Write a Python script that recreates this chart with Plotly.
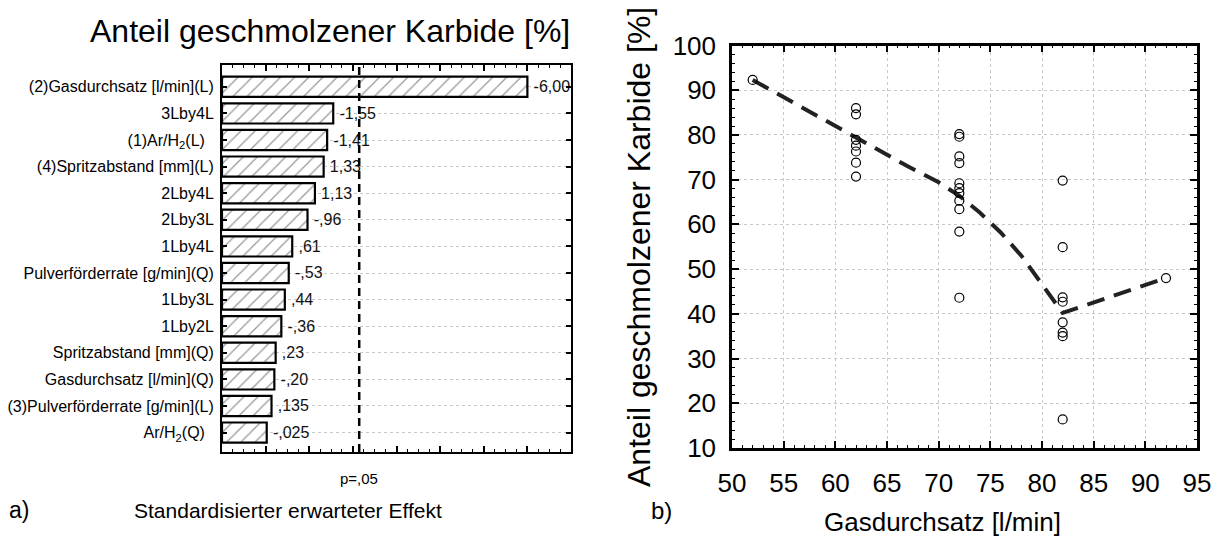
import numpy as np
import plotly.graph_objects as go

# ---------------------------------------------------------------- data
# a) Pareto chart of standardized effects
effect_names = [
    "(2)Gasdurchsatz [l/min](L)",
    "3Lby4L",
    "(1)Ar/H<sub>2</sub>(L)\u00a0\u00a0",
    "(4)Spritzabstand [mm](L)",
    "2Lby4L",
    "2Lby3L",
    "1Lby4L",
    "Pulverförderrate [g/min](Q)",
    "1Lby3L",
    "1Lby2L",
    "Spritzabstand [mm](Q)",
    "Gasdurchsatz [l/min](Q)",
    "(3)Pulverförderrate [g/min](L)",
    "Ar/H<sub>2</sub>(Q)\u00a0\u00a0",
]
effect_values = [-6.00, -1.55, -1.41, 1.33, 1.13, -0.96, 0.61,
                 -0.53, 0.44, -0.36, 0.23, -0.20, 0.135, -0.025]
t_critical = 2.145          # p = 0.05 significance limit
pareto_start = -1           # left end of the effect axis

# b) melted carbide fraction vs. gas flow
gas_flow = ([52]
            + [62] * 7
            + [72] * 11
            + [82] * 8
            + [92])
carbide_share = ([92.3]
                 + [86.0, 84.6, 78.9, 77.6, 76.3, 73.8, 70.7]
                 + [80.2, 79.6, 75.2, 73.7, 69.2, 68.1, 67.0, 65.3, 63.4, 58.4, 43.6]
                 + [69.8, 54.9, 43.7, 42.7, 38.1, 35.8, 35.0, 16.4]
                 + [48.0])
fit_flow = [52, 57, 62, 67, 70, 72, 74, 76, 78, 80, 82, 92]
fit_share = [92.3, 85.8, 79.3, 73.0, 69.4, 66.4, 62.6, 58.2, 53.0, 46.6, 40.2, 48.0]

FONT = "Liberation Sans, Arial, Helvetica, sans-serif"
W, H = 1222, 549


def px(x):
    return x / W


def py(y):
    return 1 - y / H


def effect_label(v):
    """Statistica style: comma decimal, no leading zero, at least 2 decimals."""
    s = f"{abs(v):.3f}".rstrip("0")
    whole, frac = s.split(".")
    frac = frac.ljust(2, "0")
    whole = "" if whole == "0" else whole
    # narrow no-break space keeps the value a little away from the bar end
    return "\u202f" + ("-" if v < 0 else "") + whole + "," + frac


effects = np.abs(np.array(effect_values))

fig = go.Figure()

fig.add_trace(go.Bar(
    y=effect_names,
    x=effects - pareto_start,
    base=pareto_start,
    orientation="h",
    width=0.76,
    marker=dict(
        color="white",
        line=dict(color="black", width=2.2),
        pattern=dict(shape="/", fgcolor="#333333", bgcolor="white",
                     size=10, solidity=0.13),
    ),
    text=[effect_label(v) for v in effect_values],
    textposition="outside",
    constraintext="none",
    cliponaxis=False,
    textfont=dict(family=FONT, size=16, color="#111111"),
    xaxis="x", yaxis="y",
    showlegend=False,
))

fig.add_trace(go.Scatter(
    x=fit_flow, y=fit_share,
    mode="lines",
    line=dict(color="#222222", width=4, dash="18px,10px"),
    xaxis="x2", yaxis="y2",
    showlegend=False,
))

fig.add_trace(go.Scatter(
    x=gas_flow, y=carbide_share,
    mode="markers",
    marker=dict(symbol="circle-open", size=9, color="black", line=dict(width=1.2)),
    xaxis="x2", yaxis="y2",
    showlegend=False,
))

axis_common = dict(
    showline=True, linecolor="black", mirror="allticks",
    ticks="inside", tickcolor="black", zeroline=False, automargin=False,
)

fig.update_layout(
    width=W, height=H,
    margin=dict(l=0, r=0, t=0, b=0, autoexpand=False),
    paper_bgcolor="white", plot_bgcolor="white",
    font=dict(family=FONT, color="black"),
    xaxis=dict(
        **axis_common,
        domain=[px(222), px(571)], anchor="y",
        range=[pareto_start, 7], dtick=1, tick0=0,
        linewidth=2, ticklen=6, tickwidth=1.5,
        showticklabels=False, showgrid=False,
        minor=dict(ticks="inside", ticklen=3, dtick=0.25, tickcolor="black", tickwidth=1),
    ),
    yaxis=dict(
        **axis_common,
        domain=[py(452), py(65)], anchor="x",
        type="category",
        range=[13.73, -0.82],
        linewidth=2, ticklen=5, tickwidth=1.5,
        showgrid=True, gridcolor="#c8c8c8", griddash="dot", gridwidth=1,
        tickfont=dict(family=FONT, size=16, color="black"),
        ticklabelstandoff=3,
    ),
    xaxis2=dict(
        **axis_common,
        domain=[px(732), px(1197)], anchor="y2",
        range=[50, 95], dtick=5, tick0=50,
        linewidth=2.5, ticklen=7, tickwidth=1.5,
        showgrid=True, gridcolor="#c8c8c8", griddash="dot", gridwidth=1,
        tickfont=dict(family=FONT, size=26, color="black"),
        ticklabelstandoff=10,
        minor=dict(ticks="inside", ticklen=3, dtick=1, tickcolor="black", tickwidth=1),
    ),
    yaxis2=dict(
        **axis_common,
        domain=[py(448), py(45.5)], anchor="x2",
        range=[10, 100], dtick=10, tick0=10,
        linewidth=2.5, ticklen=7, tickwidth=1.5,
        showgrid=True, gridcolor="#c8c8c8", griddash="dot", gridwidth=1,
        tickfont=dict(family=FONT, size=26, color="black"),
        ticklabelstandoff=8,
        minor=dict(ticks="inside", ticklen=3, dtick=2, tickcolor="black", tickwidth=1),
    ),
    shapes=[
        dict(type="line", xref="x", yref="y domain",
             x0=t_critical, x1=t_critical, y0=0, y1=1,
             line=dict(color="black", width=2.5, dash="8px,5px")),
    ],
)

annotations = [
    dict(text="Anteil geschmolzener Karbide [%]", x=px(572), y=py(31),
         xanchor="right", yanchor="middle", font=dict(size=32)),
    dict(text="p=,05", x=t_critical, xref="x", y=py(478),
         xanchor="center", yanchor="middle", font=dict(size=15)),
    dict(text="a)", x=px(7), y=py(510),
         xanchor="left", yanchor="middle", font=dict(size=23)),
    dict(text="Standardisierter erwarteter Effekt", x=px(288), y=py(510),
         xanchor="center", yanchor="middle", font=dict(size=21)),
    dict(text="b)", x=px(649), y=py(510),
         xanchor="left", yanchor="middle", font=dict(size=24)),
    dict(text="Gasdurchsatz [l/min]", x=px(942), y=py(522),
         xanchor="center", yanchor="middle", font=dict(size=26)),
    dict(text="Anteil geschmolzener Karbide [%]", x=px(639), y=py(247),
         textangle=-90, xanchor="center", yanchor="middle", font=dict(size=32)),
]
for a in annotations:
    a.setdefault("xref", "paper")
    a.setdefault("yref", "paper")
    a["showarrow"] = False
    a["font"] = dict(family=FONT, color="black", **a["font"])
fig.update_layout(annotations=annotations)

fig.write_html("out.html")
